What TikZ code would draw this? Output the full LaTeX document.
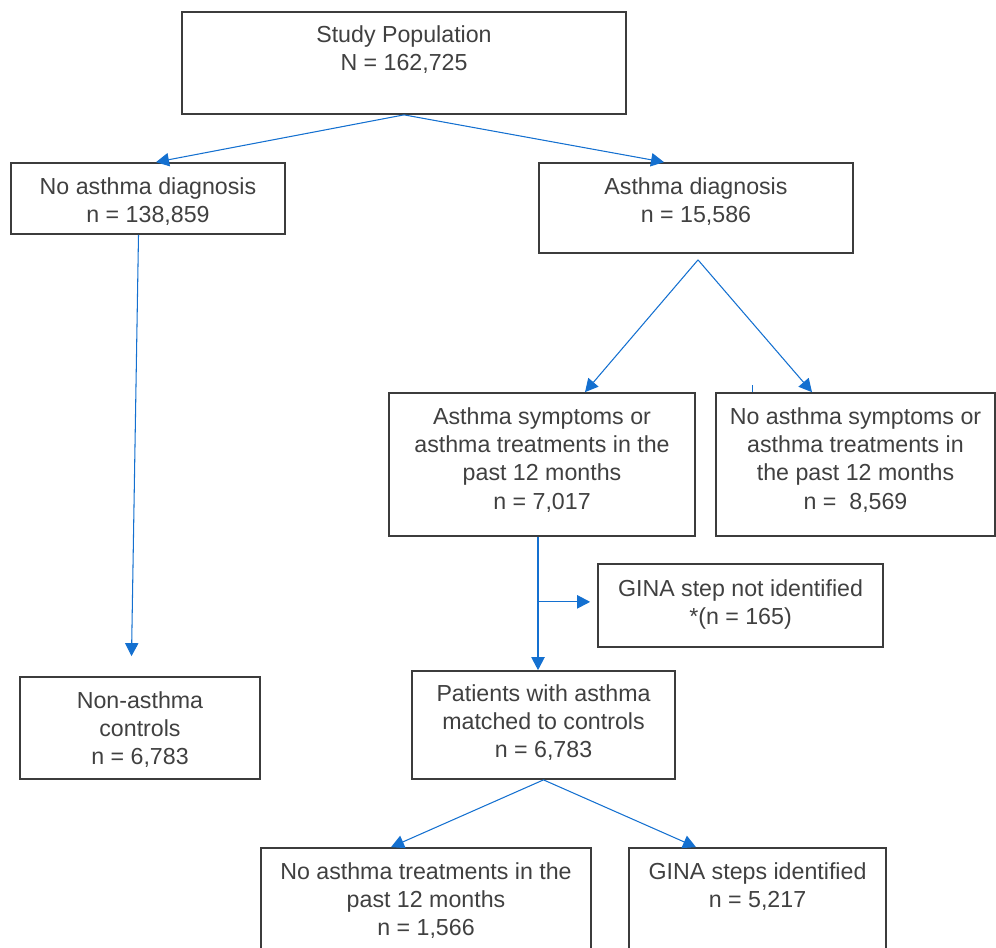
\documentclass[tikz,border=0pt]{standalone}
\usepackage{fontspec}
\setmainfont{Liberation Sans}
\usepackage{xcolor}
\usepackage{tikz}
\usetikzlibrary{arrows.meta, positioning}

\definecolor{flowblue}{RGB}{20,112,208}
\definecolor{boxgray}{RGB}{60,60,60}
\definecolor{txtgray}{RGB}{64,64,64}

\begin{document}
\begin{tikzpicture}[
  x=0.02cm, y=-0.02cm,
  box/.style = {draw=boxgray, line width=1pt, rectangle, inner sep=0pt},
  txt/.style = {anchor=north, align=center, inner sep=0pt, text=txtgray,
                font=\fontsize{13.2}{16.1}\selectfont},
  arr/.style = {-{Triangle[length=7.4pt, width=7.6pt]}, line width=0.6pt, flowblue},
]
\useasboundingbox (0,0) rectangle (996,947);
\clip (0,0) rectangle (996,947);

%% Boxes
\node[box, minimum width=8.88cm, minimum height=2.04cm] (study)   at (404,63)    {};
\node[box, minimum width=5.48cm, minimum height=1.42cm] (nodx)    at (148,198.5) {};
\node[box, minimum width=6.28cm, minimum height=1.80cm] (asdx)    at (696,208)   {};
\node[box, minimum width=6.12cm, minimum height=2.86cm] (sympt)   at (542,464.5) {};
\node[box, minimum width=5.58cm, minimum height=2.86cm] (nosympt) at (855.5,464.5) {};
\node[box, minimum width=5.70cm, minimum height=1.66cm] (ginano)  at (740.5,605.5) {};
\node[box, minimum width=4.80cm, minimum height=2.04cm] (ctrl)    at (140,728)   {};
\node[box, minimum width=5.26cm, minimum height=2.16cm] (matched) at (543.5,725) {};
\node[box, minimum width=6.60cm, minimum height=2.40cm] (notreat) at (426,908)   {};
\node[box, minimum width=5.14cm, minimum height=2.40cm] (ginaid)  at (757.5,908) {};

%% Texts, set near the top of each box
\node[txt] (study-t)   at ([yshift=-0.28cm]study.north)   {Study Population\\N = 162,725};
\node[txt] (nodx-t)    at ([yshift=-0.30cm]nodx.north)    {No asthma diagnosis\\n = 138,859};
\node[txt] (asdx-t)    at ([yshift=-0.30cm]asdx.north)    {Asthma diagnosis\\n = 15,586};
\node[txt] (sympt-t)   at ([yshift=-0.30cm]sympt.north)   {Asthma symptoms or\\asthma treatments in the\\past 12 months\\n = 7,017};
\node[txt] (nosympt-t) at ([yshift=-0.30cm]nosympt.north) {No asthma symptoms or\\asthma treatments in\\the past 12 months\\n = \ 8,569};
\node[txt] (ginano-t)  at ([yshift=-0.32cm]ginano.north)  {GINA step not identified\\*(n = 165)};
\node[txt] (ctrl-t)    at ([yshift=-0.30cm]ctrl.north)    {Non-asthma\\controls\\n = 6,783};
\node[txt] (matched-t) at ([yshift=-0.28cm]matched.north) {Patients with asthma\\matched to controls\\n = 6,783};
\node[txt] (notreat-t) at ([yshift=-0.30cm]notreat.north) {No asthma treatments in the\\past 12 months\\n = 1,566};
\node[txt] (ginaid-t)  at ([yshift=-0.30cm]ginaid.north)  {GINA steps identified\\n = 5,217};

%% Study population -> diagnosis split
\draw[arr] (study.south) -- ([xshift=0.16cm]nodx.north);
\draw[arr] (study.south) -- ([xshift=-0.64cm]asdx.north);

%% No diagnosis -> controls (long drop)
\draw[arr] ([xshift=-0.19cm]nodx.south) -- ([xshift=-0.17cm, yshift=0.40cm]ctrl.north);

%% Asthma diagnosis -> symptoms / no symptoms
\coordinate (apex) at ([xshift=0.04cm, yshift=-0.12cm]asdx.south);
\draw[arr] (apex) -- ([xshift=0.86cm]sympt.north);
\draw[arr] (apex) -- ([xshift=-0.87cm]nosympt.north);
\draw[line width=0.5pt, flowblue] ([xshift=-2.07cm]nosympt.north) -- ++(0,-7);

%% Symptoms -> matched patients, with GINA branch
\draw[arr] ([xshift=-0.08cm]sympt.south) -- ([xshift=-0.08cm]sympt.south |- matched.north);
\coordinate (branch) at ([xshift=-0.08cm, yshift=-1.3cm]sympt.south);
\draw[arr, shorten >=0.14cm] (branch) -- (branch -| ginano.west);

%% Matched patients -> final split
\draw[arr] (matched.south) -- ([xshift=-0.70cm]notreat.north);
\draw[arr] (matched.south) -- ([xshift=-1.23cm]ginaid.north);

\end{tikzpicture}
\end{document}
